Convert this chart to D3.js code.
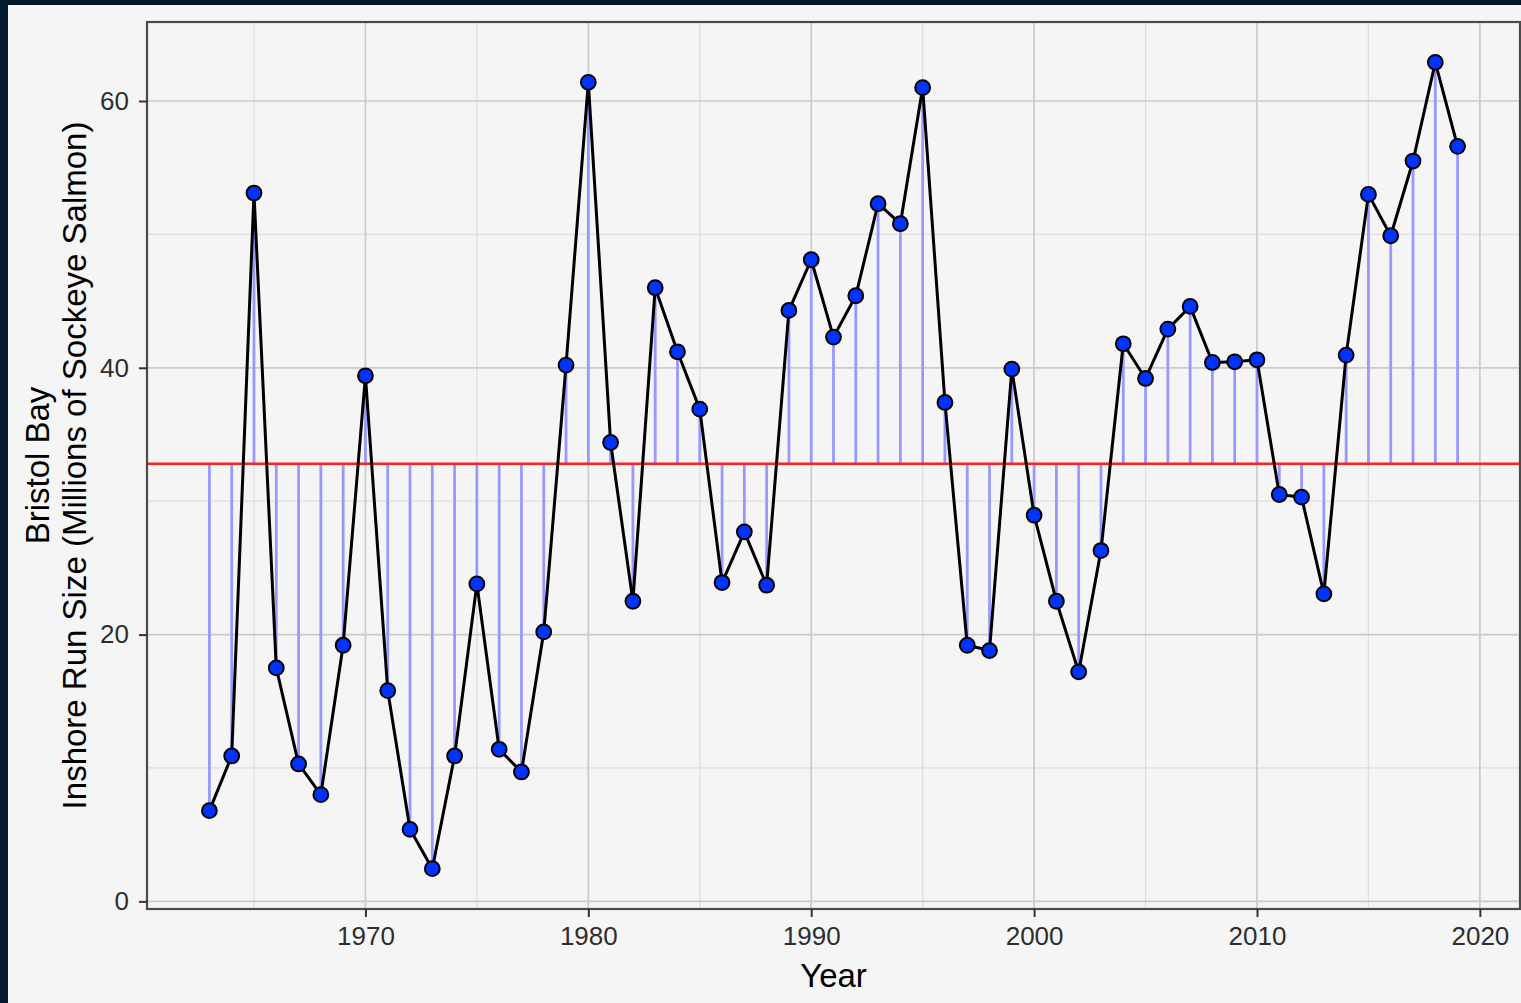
<!DOCTYPE html>
<html>
<head>
<meta charset="utf-8">
<script src="https://cdn.jsdelivr.net/npm/d3@7"></script>
<style>
  html, body { margin: 0; padding: 0; background: #03192d; }
  svg { display: block; }
</style>
</head>
<body>
<svg id="chart" width="1521" height="1003"></svg>
<script>
// Bristol Bay inshore sockeye run size, millions of fish
const years = d3.range(1963, 2020);
const runSize = [
  6.8, 10.9, 53.1, 17.5, 10.3, 8.0, 19.2, 39.4, 15.8, 5.4,
  2.45, 10.9, 23.8, 11.4, 9.7, 20.2, 40.2, 61.4, 34.4, 22.5,
  46.0, 41.2, 36.9, 23.9, 27.7, 23.7, 44.3, 48.1, 42.3, 45.4,
  52.3, 50.8, 61.0, 37.4, 19.2, 18.8, 39.9, 28.95, 22.5, 17.2,
  26.3, 41.8, 39.2, 42.9, 44.6, 40.4, 40.45, 40.6, 30.5, 30.3,
  23.05, 40.95, 53.0, 49.9, 55.5, 62.9, 56.6
];
const xMajorTicks = [1970, 1980, 1990, 2000, 2010, 2020];
const xMinorTicks = [1965, 1975, 1985, 1995, 2005, 2015];
const yMajorTicks = [0, 20, 40, 60];
const yMinorTicks = [10, 30, 50];
const xTitle = "Year";
const yTitleLines = ["Bristol Bay", "Inshore Run Size (Millions of Sockeye Salmon)"];

const data = years.map((yr, i) => ({ year: yr, value: runSize[i] }));
const meanRun = d3.mean(runSize);

const svg = d3.select("#chart");
const W = 1521, H = 1003;
const panel = { left: 147, right: 1520, top: 22, bottom: 909 };

// page background with dark frame on the left and top
svg.append("rect").attr("width", W).attr("height", H).attr("fill", "#03192d");
svg.append("rect").attr("x", 8).attr("y", 5).attr("width", W - 8).attr("height", H - 5).attr("fill", "#f5f5f5");

// scales with 5% padding on either side of the data
const xExt = d3.extent(years), xPad = (xExt[1] - xExt[0]) * 0.05;
const yExt = d3.extent(runSize), yPad = (yExt[1] - yExt[0]) * 0.05;
const x = d3.scaleLinear().domain([xExt[0] - xPad, xExt[1] + xPad]).range([panel.left, panel.right]);
const y = d3.scaleLinear().domain([yExt[0] - yPad, yExt[1] + yPad]).range([panel.bottom, panel.top]);

svg.append("clipPath").attr("id", "panelClip")
  .append("rect")
  .attr("x", panel.left).attr("y", panel.top)
  .attr("width", panel.right - panel.left).attr("height", panel.bottom - panel.top);

const g = svg.append("g").attr("clip-path", "url(#panelClip)");

// grid lines
g.selectAll(".xminor").data(xMinorTicks).join("line")
  .attr("x1", d => x(d)).attr("x2", d => x(d))
  .attr("y1", panel.top).attr("y2", panel.bottom)
  .attr("stroke", "#dedede").attr("stroke-width", 1.3);
g.selectAll(".yminor").data(yMinorTicks).join("line")
  .attr("y1", d => y(d)).attr("y2", d => y(d))
  .attr("x1", panel.left).attr("x2", panel.right)
  .attr("stroke", "#dedede").attr("stroke-width", 1.3);
g.selectAll(".xmajor").data(xMajorTicks).join("line")
  .attr("x1", d => x(d)).attr("x2", d => x(d))
  .attr("y1", panel.top).attr("y2", panel.bottom)
  .attr("stroke", "#cbcbcb").attr("stroke-width", 1.7);
g.selectAll(".ymajor").data(yMajorTicks).join("line")
  .attr("y1", d => y(d)).attr("y2", d => y(d))
  .attr("x1", panel.left).attr("x2", panel.right)
  .attr("stroke", "#cbcbcb").attr("stroke-width", 1.7);

// deviation stems from the long-term mean
g.selectAll(".stem").data(data).join("line")
  .attr("x1", d => x(d.year)).attr("x2", d => x(d.year))
  .attr("y1", y(meanRun)).attr("y2", d => y(d.value))
  .attr("stroke", "#9898ff").attr("stroke-width", 2.8);

// mean line
g.append("line")
  .attr("x1", panel.left).attr("x2", panel.right)
  .attr("y1", y(meanRun)).attr("y2", y(meanRun))
  .attr("stroke", "#ff2020").attr("stroke-width", 2.6);

// run size trace
g.append("path").datum(data)
  .attr("d", d3.line().x(d => x(d.year)).y(d => y(d.value)))
  .attr("fill", "none").attr("stroke", "#000").attr("stroke-width", 3)
  .attr("stroke-linejoin", "round");

g.selectAll(".pt").data(data).join("circle")
  .attr("cx", d => x(d.year)).attr("cy", d => y(d.value))
  .attr("r", 7.4)
  .attr("fill", "#0033ff").attr("stroke", "#000").attr("stroke-width", 2);

// panel border
svg.append("rect")
  .attr("x", panel.left).attr("y", panel.top)
  .attr("width", panel.right - panel.left).attr("height", panel.bottom - panel.top)
  .attr("fill", "none").attr("stroke", "#4a4a4a").attr("stroke-width", 2.2);

// axes
const font = "'Liberation Sans', Arial, Helvetica, sans-serif";
const xAxis = d3.axisBottom(x).tickValues(xMajorTicks).tickFormat(d3.format("d")).tickSize(8).tickPadding(10);
const yAxis = d3.axisLeft(y).tickValues(yMajorTicks).tickFormat(d3.format("d")).tickSize(8).tickPadding(10);

const gx = svg.append("g").attr("transform", `translate(0,${panel.bottom})`).call(xAxis);
const gy = svg.append("g").attr("transform", `translate(${panel.left},0)`).call(yAxis);
[gx, gy].forEach(a => {
  a.select(".domain").remove();
  a.selectAll(".tick line").attr("stroke", "#333").attr("stroke-width", 2);
  a.selectAll(".tick text").attr("fill", "#2e2e2e").style("font-family", font).style("font-size", "26px");
});

// axis titles
svg.append("text")
  .attr("x", (panel.left + panel.right) / 2).attr("y", 987)
  .attr("text-anchor", "middle")
  .style("font-family", font).style("font-size", "33px").attr("fill", "#000")
  .text(xTitle);

const yt = svg.append("text")
  .attr("transform", `translate(0,${(panel.top + panel.bottom) / 2}) rotate(-90)`)
  .attr("text-anchor", "middle")
  .style("font-family", font).style("font-size", "33px").attr("fill", "#000");
yTitleLines.forEach((t, i) => {
  yt.append("tspan").attr("x", 0).attr("y", 49 + i * 37).text(t);
});
</script>
</body>
</html>
